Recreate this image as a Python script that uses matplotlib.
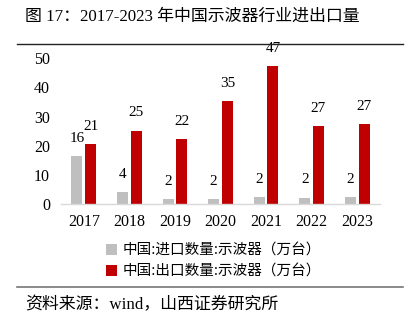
import matplotlib
matplotlib.use("Agg")
import matplotlib.pyplot as plt
from matplotlib.lines import Line2D
import numpy as np

years = ["2017", "2018", "2019", "2020", "2021", "2022", "2023"]
imports = [16.4, 4.3, 1.9, 1.9, 2.4, 2.3, 2.4]
exports = [20.6, 25.2, 22.4, 35.4, 47.3, 26.8, 27.4]
import_label = "中国:进口数量:示波器（万台）"
export_label = "中国:出口数量:示波器（万台）"
title = "图 17：2017-2023 年中国示波器行业进出口量"
source = "资料来源：wind，山西证券研究所"

GRAY = "#bfbfbf"
RED = "#c00000"
serif = ["Liberation Serif", "Noto Sans CJK SC"]
cjk = ["Noto Sans CJK SC", "DejaVu Sans"]

fig = plt.figure(figsize=(4.11, 3.27), dpi=100)
W, H = 411, 327
ax = fig.add_axes([61 / W, 1 - 204.3 / H, 319 / W, (204.3 - 58) / H])

x = np.arange(len(years))
w = 0.24
off = 0.15
b1 = ax.bar(x - off, imports, w, color=GRAY, label=import_label)
b2 = ax.bar(x + off, exports, w, color=RED, label=export_label)

for xi, v in zip(x - off, imports):
    ax.annotate(f"{v:.0f}", (xi, v), xytext=(0, 8), textcoords="offset points",
                ha="center", va="bottom", fontsize=11, family=serif, annotation_clip=False)
for xi, v in zip(x + off, exports):
    ax.annotate(f"{v:.0f}", (xi, v), xytext=(0, 8), textcoords="offset points",
                ha="center", va="bottom", fontsize=11, family=serif, annotation_clip=False)

ax.set_xlim(-0.5, len(years) - 0.5)
ax.set_ylim(0, 50)
ax.set_yticks([0, 10, 20, 30, 40, 50])
ax.set_xticks(x)
ax.set_xticklabels(years)
for lab in ax.get_xticklabels() + ax.get_yticklabels():
    lab.set_family(serif)
    lab.set_fontsize(11.5)
ax.tick_params(axis="both", length=0)
ax.tick_params(axis="x", pad=7)
ax.tick_params(axis="y", pad=8)
for s in ["top", "right", "left"]:
    ax.spines[s].set_visible(False)
ax.spines["bottom"].set_color("#d9d9d9")
ax.spines["bottom"].set_linewidth(1.0)

leg = fig.legend(handles=[b1, b2], loc="upper left", bbox_to_anchor=(100 / W, 1 - 238 / H),
                 frameon=False, prop={"family": cjk, "size": 10.5}, handlelength=0.75,
                 handleheight=0.75, handletextpad=0.4, labelspacing=0.45, borderaxespad=0)

fig.text(25 / W, 1 - 17 / H, title, ha="left", va="center", fontsize=12.2, family=serif)
fig.add_artist(Line2D([17 / W, 403 / W], [1 - 43.5 / H] * 2, color="#222222", lw=1.0))
fig.add_artist(Line2D([17 / W, 403 / W], [1 - 287 / H] * 2, color="#777777", lw=1.2))
fig.text(25 / W, 1 - 305 / H, source, ha="left", va="center", fontsize=12.2, family=serif)

fig.savefig("out.png", dpi=100)
